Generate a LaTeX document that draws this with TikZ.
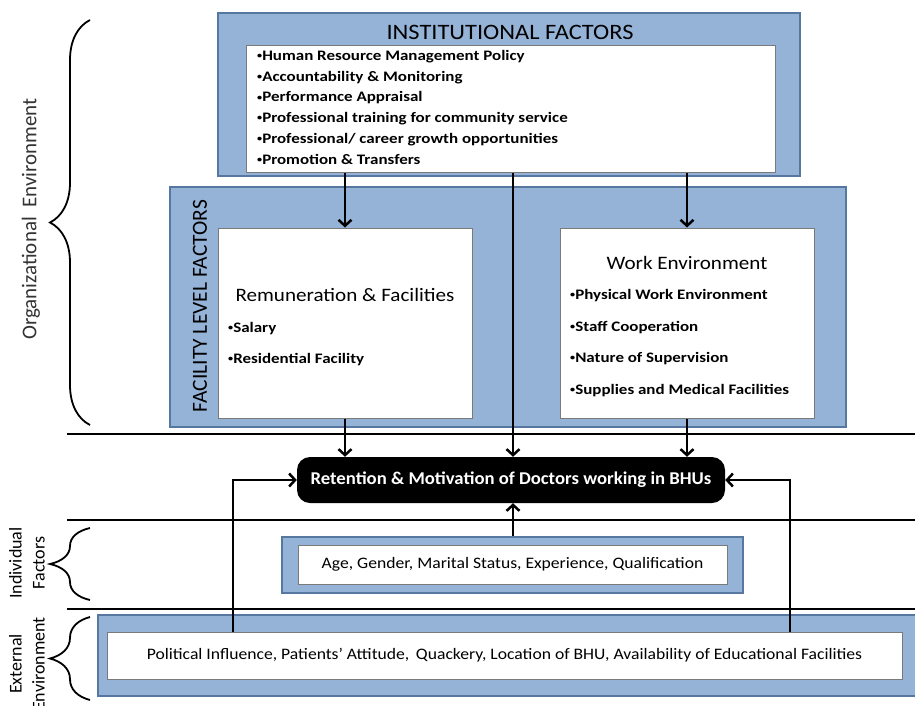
\documentclass[tikz,border=0pt]{standalone}
\usepackage{fontspec}
\setmainfont{Carlito}
\newfontfamily\bulfont[FakeStretch=1.17]{Carlito}
\newfontfamily\headfont[FakeStretch=1.11]{Carlito}
\newfontfamily\retfont[FakeStretch=1.04]{Carlito}
\newfontfamily\plainfont[FakeStretch=1.10]{Carlito}
\usetikzlibrary{arrows.meta,decorations.pathreplacing}
\definecolor{boxblue}{HTML}{95B3D7}
\definecolor{boxedge}{HTML}{56779F}
\definecolor{inneredge}{HTML}{7A7A7A}
\newcommand\sbul{\raisebox{0.25ex}{\scalebox{0.6}{•}}}
\begin{document}
\begin{tikzpicture}[x=1pt,y=-1pt,
  outerbox/.style={draw=boxedge,line width=1.6pt,fill=boxblue,inner sep=0pt},
  innerbox/.style={draw=inneredge,line width=1pt,fill=white,inner sep=0pt},
  bulletitem/.style={anchor=mid west,inner sep=0pt,font=\bulfont\fontsize{14.5}{16}\selectfont\bfseries},
  conn/.style={line width=2.5pt,-{Straight Barb[length=6pt,width=13pt]}},
  sepline/.style={line width=2.4pt},
  bracestyle/.style={decorate,decoration={brace,amplitude=40pt},line width=1.8pt}]
\path[use as bounding box] (0,0) rectangle (915,705);
\clip (0,0) rectangle (915,705);

% Institutional factors
\node[outerbox,minimum width=582pt,minimum height=163pt] (instout) at (509,94.5) {};
\node[innerbox,minimum width=529pt,minimum height=127pt] (instin) at (510.5,108.5) {};
\node[inner sep=0pt,font=\headfont\fontsize{22}{24}\selectfont] (insttitle) at (510,32) {INSTITUTIONAL FACTORS};
\node[bulletitem] (i1) at (257,58) {\sbul Human Resource Management Policy};
\node[bulletitem] (i2) at (257,79) {\sbul Accountability \& Monitoring};
\node[bulletitem] (i3) at (257,99.5) {\sbul Performance Appraisal};
\node[bulletitem] (i4) at (257,120) {\sbul Professional training for community service};
\node[bulletitem] (i5) at (257,141) {\sbul Professional/ career growth opportunities};
\node[bulletitem] (i6) at (257,162) {\sbul Promotion \& Transfers};

% Facility level factors
\node[outerbox,minimum width=676pt,minimum height=240pt] (facout) at (508,307) {};
\node[inner sep=0pt,rotate=90,font=\fontsize{21.5}{24}\selectfont] (faclabel) at (200,306) {FACILITY LEVEL FACTORS};
\node[innerbox,minimum width=254pt,minimum height=190pt] (rem) at (345,323) {};
\node[innerbox,minimum width=254pt,minimum height=190pt] (work) at (687,323) {};
\node[inner sep=0pt,font=\headfont\fontsize{19}{22}\selectfont] (remtitle) at (345,295) {Remuneration \& Facilities};
\node[bulletitem] (r1) at (228,330) {\sbul Salary};
\node[bulletitem] (r2) at (228,361) {\sbul Residential Facility};
\node[inner sep=0pt,font=\headfont\fontsize{19}{22}\selectfont] (worktitle) at (687,263) {Work Environment};
\node[bulletitem] (w1) at (570,297) {\sbul Physical Work Environment};
\node[bulletitem] (w2) at (570,329) {\sbul Staff Cooperation};
\node[bulletitem] (w3) at (570,360) {\sbul Nature of Supervision};
\node[bulletitem] (w4) at (570,392) {\sbul Supplies and Medical Facilities};

% Separator lines
\coordinate (s1a) at (67,434); \coordinate (s1b) at (915,434);
\coordinate (s2a) at (67,520); \coordinate (s2b) at (915,520);
\coordinate (s3a) at (67,609); \coordinate (s3b) at (915,609);
\draw[sepline] (s1a) -- (s1b);
\draw[sepline] (s2a) -- (s2b);
\draw[sepline] (s3a) -- (s3b);

% Central outcome
\node[fill=black,rounded corners=13pt,minimum width=428pt,minimum height=46pt,inner sep=0pt,
      text=white,font=\retfont\fontsize{18}{20}\selectfont\bfseries] (ret) at (511,480)
      {Retention \& Motivation of Doctors working in BHUs};

% Individual factors
\node[outerbox,minimum width=461pt,minimum height=56pt] (indout) at (512.5,565) {};
\node[innerbox,minimum width=429pt,minimum height=39pt,font=\plainfont\fontsize{16}{18}\selectfont] (indin) at (512.5,564.5)
      {Age, Gender, Marital Status, Experience, Qualification};

% External environment
\node[outerbox,minimum width=830pt,minimum height=81pt] (extout) at (513,655.5) {};
\node[innerbox,minimum width=795pt,minimum height=47pt,font=\plainfont\fontsize{16}{18}\selectfont] (extin) at (504.5,655.5)
      {Political Influence, Patients’ Attitude,\, Quackery, Location of BHU, Availability of Educational Facilities};

% Connectors
\draw[conn] (instin.south -| rem.north) -- (rem.north);
\draw[conn] (instin.south -| work.north) -- (work.north);
\draw[conn] (instin.south -| 513,0) -- (ret.north -| 513,0);
\draw[conn] (rem.south) -- (ret.north -| rem.south);
\draw[conn] (work.south) -- (ret.north -| work.south);
\draw[conn] (indout.north -| 513,0) -- (ret.south -| 513,0);
\draw[conn] (extin.north -| 233,0) |- (ret.west);
\draw[conn] (extin.north -| 790,0) |- (ret.east);

% Braces and side labels
\coordinate (b1a) at (90,425); \coordinate (b1b) at (90,20);
\coordinate (b2a) at (90,600); \coordinate (b2b) at (90,528);
\coordinate (b3a) at (90,700); \coordinate (b3b) at (90,617);
\draw[bracestyle] (b1a) -- (b1b);
\draw[bracestyle] (b2a) -- (b2b);
\draw[bracestyle] (b3a) -- (b3b);
\node[inner sep=0pt,rotate=90,text=black!80,font=\fontsize{21}{24}\selectfont] (orglabel) at (31,219) {Organizational\ \ Environment};
\node[inner sep=0pt,rotate=90,align=center,font=\fontsize{18}{23}\selectfont] (indlabel) at (27,563) {Individual\\Factors};
\node[inner sep=0pt,rotate=90,align=center,font=\fontsize{18}{23}\selectfont] (extlabel) at (27,664) {External\\Environment};
\end{tikzpicture}
\end{document}
